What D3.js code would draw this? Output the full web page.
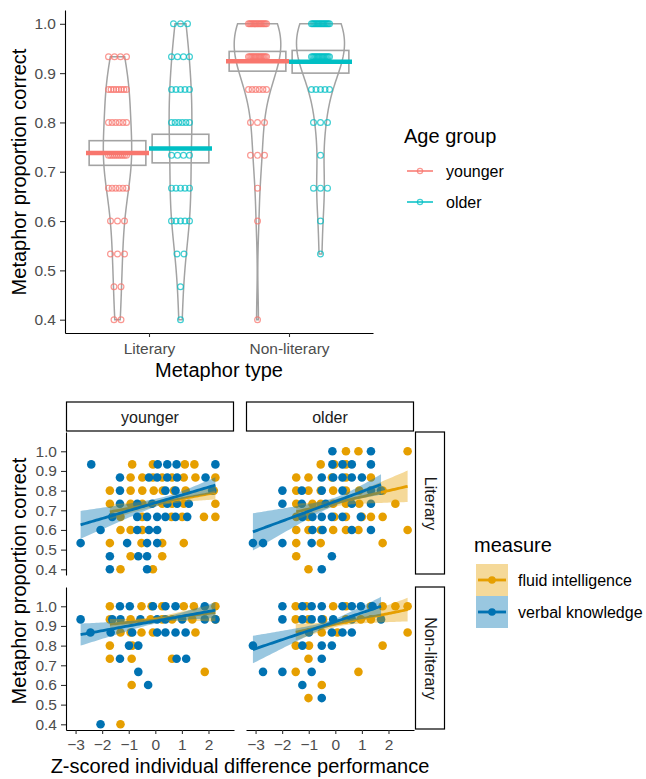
<!DOCTYPE html>
<html>
<head>
<meta charset="utf-8">
<script src="https://cdn.jsdelivr.net/npm/d3@7"></script>
<style>
body { margin: 0; background: #fff; }
text { font-family: "Liberation Sans", Arial, Helvetica, sans-serif; }
</style>
</head>
<body>
<script>
// ---------- data: top panel (pirate plot) ----------
var metaphorTypes = ["Literary", "Non-literary"];
var ageGroups = ["younger", "older"];
var ageColors = ["#F8766D", "#00BFC4"];
var scoreLevels = [0.4, 0.4667, 0.5333, 0.6, 0.6667, 0.7333, 0.8, 0.8667, 0.9333, 1.0];
// number of participants at each score level
var countsLitYoung = [2, 2, 3, 3, 6, 10, 6, 8, 4, 0];
var countsLitOld   = [1, 1, 2, 5, 5, 4, 6, 5, 4, 3];
var countsNonYoung = [1, 0, 0, 1, 1, 3, 3, 6, 15, 15];
var countsNonOld   = [0, 0, 1, 1, 3, 1, 3, 5, 15, 15];
var meanLit = [0.738, 0.747], meanNon = [0.924, 0.923];
var ciLowLit = [0.713, 0.718], ciHighLit = [0.763, 0.776];
var ciLowNon = [0.904, 0.900], ciHighNon = [0.944, 0.946];
var yTicks = [0.4, 0.5, 0.6, 0.7, 0.8, 0.9, 1.0];

// ---------- data: bottom panels (score level -> z-scores) ----------
var measures = ["fluid intelligence", "verbal knowledge"];
var measureColors = ["#E69F00", "#0072B2"];
var zTicks = [-3, -2, -1, 0, 1, 2];

var fluidYoungLit = [
  [0.9333, [-0.87, -0.09, 1.11, 1.47]],
  [0.8667, [-0.93, -0.49, -0.09, 0.26, 0.63, 1.07, 1.51, 2.26]],
  [0.8,    [-1.71, -0.93, -0.49, -0.06, 0.28, 0.70, 1.14, 2.20]],
  [0.7333, [-1.71, -0.93, -0.49, 0.26, 0.63, 1.07, 2.26]],
  [0.6667, [-1.31, -0.49, 0.61, 1.01, 1.83, 2.26]],
  [0.6,    [-1.31, -0.93, -0.49]],
  [0.5333, [-1.71, -0.52, 0.26, 1.07]],
  [0.4667, [-0.93, 0.26]],
  [0.4,    [-1.31, -0.09]]
];
var verbalYoungLit = [
  [0.9333, [-2.41, 0.09, 0.45, 0.80, 2.26]],
  [0.8667, [-1.33, -0.24, 0.07, 0.45, 0.82, 1.89]],
  [0.8,    [-1.33, 0.38, 0.76, 2.14]],
  [0.7333, [-1.33, -0.68, -0.12, 0.45, 0.82, 1.26]],
  [0.6667, [-1.62, -0.68, -0.31, 0.07, 0.38, 0.76, 1.20]],
  [0.6,    [-2.06, -0.68, -0.24, 0.07]],
  [0.5333, [-2.81, -1.06, -0.31, 0.07]],
  [0.4667, [-1.71, -0.64, -0.31]],
  [0.4,    [-1.71, -0.31]]
];
var fluidOldLit = [
  [1.0,    [0.40, 0.87, 2.72]],
  [0.9333, [-0.55, -0.04, 0.40]],
  [0.8667, [-1.47, -1.01, -0.13, 0.40, 1.34]],
  [0.8,    [-1.47, -1.01, -0.55, -0.08, 0.40, 0.90, 1.78]],
  [0.7333, [-1.47, -0.86, -0.55, -0.08, 0.40, 0.90, 2.26]],
  [0.6667, [-1.47, -1.01, -0.04, 0.40, 1.00, 1.34, 1.78]],
  [0.6,    [-1.47, -1.01, -0.55, -0.08, 0.40, 0.87, 2.72]],
  [0.5333, [-1.47, -0.55, 1.78]],
  [0.4667, [-1.47]],
  [0.4,    [-1.01]]
];
var verbalOldLit = [
  [1.0,    [-0.11, 1.34]],
  [0.9333, [-0.11, 0.27, 0.62, 1.34]],
  [0.8667, [-0.51, -0.08, 0.27, 0.62, 1.00]],
  [0.8,    [-1.99, -1.26, -0.51, 0.27, 1.34, 1.72]],
  [0.7333, [-1.99, -1.26, -0.36, 0.62, 1.34]],
  [0.6667, [-1.24, -0.86, -0.51, -0.13, 0.27, 0.96]],
  [0.6,    [-0.86, -0.48, 0.62, 1.34]],
  [0.5333, [-3.10, -2.72, -1.99, -0.89]],
  [0.4667, [-0.13]],
  [0.4,    [-0.51]]
];
var fluidYoungNon = [
  [1.0,    [-1.71, -0.52, -0.14, 0.26, 1.07, 1.45, 2.26]],
  [0.9333, [-1.71, -0.93, -0.18, 0.26, 0.63, 1.39, 2.26]],
  [0.8667, [-1.31, -0.93, -0.52, -0.09, 1.51]],
  [0.8,    [-1.71, -0.87]],
  [0.7333, [-1.71, -0.89, 0.63]],
  [0.6667, [1.86]],
  [0.6,    [-0.89]],
  [0.4,    [-1.31]]
];
var verbalYoungNon = [
  [1.0,    [-1.33, -0.96, -0.09, 0.38, 0.76, 1.86]],
  [0.9333, [-2.81, -1.62, -1.31, -0.56, 0.07, 0.38, 1.01, 1.86, 2.26]],
  [0.8667, [-2.44, -1.68, -0.87, 0.07, 0.38, 0.76, 1.14]],
  [0.8,    [-0.99, -0.64]],
  [0.7333, [-1.33, 0.80, 1.16]],
  [0.6667, [-0.64]],
  [0.6,    [-0.27]],
  [0.4,    [-2.06]]
];
var fluidOldNon = [
  [1.0,    [-1.49, -1.09, -0.08, 0.40, 1.34, 1.78, 2.26, 2.72]],
  [0.9333, [-1.49, -1.01, -0.46, 0.40, 0.96, 1.34]],
  [0.8667, [-0.51, 0.08, 2.72]],
  [0.8,    [-1.49, -0.99, 1.78]],
  [0.7333, [-1.01]],
  [0.6667, [-1.49, 0.87]],
  [0.6,    [-0.51]],
  [0.5333, [-1.01]]
];
var verbalOldNon = [
  [1.0,    [-1.99, -1.24, -0.89, -0.51, 0.27, 0.62, 0.96, 1.40]],
  [0.9333, [-1.99, -1.24, -0.89, -0.51, -0.08, 0.62, 1.72]],
  [0.8667, [-0.99, -0.13, 0.27, 0.62]],
  [0.8,    [-3.10, -1.24, -0.51, -0.13]],
  [0.7333, [-0.51]],
  [0.6667, [-2.72, -1.99, -0.89]],
  [0.6,    [-1.24]],
  [0.5333, [-0.51]]
];
// linear fits, panels in order younger-Lit, older-Lit, younger-Non, older-Non:
// [x start, x end, fit at start, fit at end, CI half-width at start, at end, smallest half-width]
var fluidFits = [
  [-1.71, 2.26, 0.692, 0.790, 0.038, 0.035, 0.014],
  [-1.47, 2.72, 0.692, 0.822, 0.042, 0.080, 0.018],
  [-1.71, 2.26, 0.908, 0.968, 0.027, 0.044, 0.011],
  [-1.49, 2.72, 0.868, 0.983, 0.042, 0.060, 0.014]
];
var verbalFits = [
  [-2.81, 2.26, 0.626, 0.828, 0.071, 0.040, 0.017],
  [-3.10, 1.72, 0.590, 0.831, 0.095, 0.052, 0.020],
  [-2.81, 2.26, 0.856, 0.980, 0.056, 0.040, 0.012],
  [-3.10, 1.72, 0.780, 1.000, 0.070, 0.048, 0.015]
];

// ---------- setup ----------
var svg = d3.select("body").append("svg").attr("width", 646).attr("height", 779);

function styleAxis(g) {
  g.select(".domain").attr("stroke", "#000").attr("stroke-width", 1.1);
  g.selectAll(".tick line").attr("stroke", "#333").attr("stroke-width", 1.1);
  g.selectAll(".tick text").attr("fill", "#4d4d4d").attr("font-size", 15.5)
    .attr("font-family", "Liberation Sans, Arial, sans-serif");
}

// ================= TOP: pirate plot =================
var xType = d3.scalePoint().domain(metaphorTypes).range([65, 373]).padding(0.6);
var xAge = d3.scaleBand().domain(ageGroups).range([-63, 63]);
var yTop = d3.scaleLinear().domain([0.373, 1.028]).range([333, 10]);

var topCounts = [[countsLitYoung, countsLitOld], [countsNonYoung, countsNonOld]];
var topMeans = [meanLit, meanNon];
var topLow = [ciLowLit, ciLowNon], topHigh = [ciHighLit, ciHighNon];

function expand(counts) {
  var out = [];
  counts.forEach(function(c, i) { for (var j = 0; j < c; j++) out.push(scoreLevels[i]); });
  return out;
}
function bandwidth(v) {
  return 0.9 * d3.deviation(v) * Math.pow(v.length, -0.2);
}
function kde(v, bw, lo, hi) {
  var out = [];
  for (var i = 0; i <= 120; i++) {
    var g = lo + (hi - lo) * i / 120;
    var d = d3.mean(v, function(x) { var u = (g - x) / bw; return Math.exp(-0.5 * u * u); }) / (bw * Math.sqrt(2 * Math.PI));
    out.push({v: g, d: d});
  }
  return out;
}

var groupsTop = [];
metaphorTypes.forEach(function(t, ti) {
  ageGroups.forEach(function(a, ai) {
    var vals = expand(topCounts[ti][ai]);
    groupsTop.push({
      type: t, age: a, ai: ai, ti: ti, counts: topCounts[ti][ai],
      cx: xType(t) + xAge(a) + xAge.bandwidth() / 2,
      dens: kde(vals, bandwidth(vals), d3.min(vals), d3.max(vals)),
      mean: topMeans[ti][ai], lo: topLow[ti][ai], hi: topHigh[ti][ai]
    });
  });
});
var maxDens = d3.max(groupsTop, function(g) { return d3.max(g.dens, function(d) { return d.d; }); });
var violinHalf = 24;

var topG = svg.append("g");
// violins
groupsTop.forEach(function(g) {
  var area = d3.area()
    .y(function(d) { return yTop(d.v); })
    .x0(function(d) { return g.cx - violinHalf * d.d / maxDens; })
    .x1(function(d) { return g.cx + violinHalf * d.d / maxDens; });
  topG.append("path").attr("d", area(g.dens))
    .attr("fill", "none").attr("stroke", "#a3a3a3").attr("stroke-width", 1.5);
});
// points, spread across each score level
groupsTop.forEach(function(g) {
  g.counts.forEach(function(n, li) {
    if (!n) return;
    var spread = Math.min(9, (n - 1) * 3.5);
    for (var j = 0; j < n; j++) {
      var off = n === 1 ? 0 : -spread + 2 * spread * j / (n - 1);
      topG.append("circle")
        .attr("cx", g.cx + off).attr("cy", yTop(scoreLevels[li])).attr("r", 2.9)
        .attr("fill", "none").attr("stroke", ageColors[g.ai]).attr("stroke-width", 1.2)
        .attr("stroke-opacity", 0.75);
    }
  });
});
// interval boxes
groupsTop.forEach(function(g) {
  var bw = xAge.bandwidth() * 0.9;
  topG.append("rect").attr("x", g.cx - bw / 2).attr("y", yTop(g.hi))
    .attr("width", bw).attr("height", yTop(g.lo) - yTop(g.hi))
    .attr("fill", "none").attr("stroke", "#a3a3a3").attr("stroke-width", 1.6);
});
// mean lines
groupsTop.forEach(function(g) {
  var bw = xAge.bandwidth();
  topG.append("line").attr("x1", g.cx - bw / 2).attr("x2", g.cx + bw / 2)
    .attr("y1", yTop(g.mean)).attr("y2", yTop(g.mean))
    .attr("stroke", ageColors[g.ai]).attr("stroke-width", 4.5);
});

// axes
topG.append("g").attr("transform", "translate(65,0)")
  .call(d3.axisLeft(yTop).tickValues(yTicks).tickFormat(d3.format(".1f")).tickSize(5).tickSizeOuter(0).tickPadding(4))
  .call(styleAxis);
topG.append("g").attr("transform", "translate(0,333)")
  .call(d3.axisBottom(xType).tickSize(4).tickSizeOuter(0).tickPadding(6))
  .call(styleAxis);
topG.append("text").attr("transform", "translate(26,172) rotate(-90)")
  .attr("text-anchor", "middle").attr("font-size", 20).attr("fill", "#000")
  .text("Metaphor proportion correct");
topG.append("text").attr("x", 219).attr("y", 377)
  .attr("text-anchor", "middle").attr("font-size", 20).attr("fill", "#000")
  .text("Metaphor type");

// legend: age group
var lg = svg.append("g");
lg.append("text").attr("x", 404).attr("y", 143).attr("font-size", 20).text("Age group");
ageGroups.forEach(function(a, i) {
  var y = 171 + i * 31;
  lg.append("line").attr("x1", 407).attr("x2", 433).attr("y1", y).attr("y2", y)
    .attr("stroke", ageColors[i]).attr("stroke-width", 2).attr("stroke-opacity", 0.75);
  lg.append("circle").attr("cx", 420).attr("cy", y).attr("r", 2.6)
    .attr("fill", "none").attr("stroke", ageColors[i]).attr("stroke-width", 1.2).attr("stroke-opacity", 0.75);
  lg.append("text").attr("x", 446).attr("y", y + 5.5).attr("font-size", 16).attr("fill", "#000").text(a);
});

// ================= BOTTOM: facet grid =================
var colX = [66, 246], rowY = [432, 587], panelW = 168, panelH = 143;
var rowTypes = ["Literary", "Non-literary"];
var panelData = [
  [[fluidYoungLit, verbalYoungLit], [fluidOldLit, verbalOldLit]],
  [[fluidYoungNon, verbalYoungNon], [fluidOldNon, verbalOldNon]]
];
var xZ = d3.scaleLinear().domain([-3.36, 2.96]).range([0, panelW]);
var yP = d3.scaleLinear().domain([0.371, 1.098]).range([panelH, 0]);

function toPoints(rows) {
  var out = [];
  rows.forEach(function(r) { r[1].forEach(function(x) { out.push({x: x, y: r[0]}); }); });
  return out;
}
// line + hyperbolic confidence band from a fit row
function fitBand(f) {
  var x0 = f[0], x1 = f[1], y0 = f[2], y1 = f[3], h0 = f[4], h1 = f[5], m = f[6];
  var r = Math.sqrt((h0 * h0 - m * m) / (h1 * h1 - m * m));
  var xm = (x0 + r * x1) / (1 + r);
  var c = (h1 * h1 - m * m) / ((x1 - xm) * (x1 - xm));
  var out = [];
  for (var i = 0; i <= 60; i++) {
    var x = x0 + (x1 - x0) * i / 60;
    var y = y0 + (y1 - y0) * (x - x0) / (x1 - x0);
    var h = Math.sqrt(m * m + c * (x - xm) * (x - xm));
    out.push({x: x, f: y, lo: y - h, hi: y + h});
  }
  return out;
}

var bot = svg.append("g");
rowTypes.forEach(function(rt, ri) {
  ageGroups.forEach(function(ag, ci) {
    var p = bot.append("g").attr("transform", "translate(" + colX[ci] + "," + rowY[ri] + ")");
    var sets = panelData[ri][ci];
    var k = ri * 2 + ci;
    // points: fluid first, verbal on top
    sets.forEach(function(rows, mi) {
      p.selectAll("circle.m" + mi).data(toPoints(rows)).enter().append("circle")
        .attr("class", "m" + mi)
        .attr("cx", function(d) { return xZ(d.x); })
        .attr("cy", function(d) { return yP(d.y); })
        .attr("r", 4.3).attr("fill", measureColors[mi]);
    });
    // smooths
    [fluidFits[k], verbalFits[k]].forEach(function(f, mi) {
      var band = fitBand(f);
      p.append("path").datum(band)
        .attr("d", d3.area().x(function(d) { return xZ(d.x); })
          .y0(function(d) { return yP(d.lo); }).y1(function(d) { return yP(d.hi); }))
        .attr("fill", measureColors[mi]).attr("fill-opacity", 0.4);
      p.append("path").datum(band)
        .attr("d", d3.line().x(function(d) { return xZ(d.x); }).y(function(d) { return yP(d.f); }))
        .attr("fill", "none").attr("stroke", measureColors[mi]).attr("stroke-width", 2.8);
    });
    // axes on outer panels
    if (ci === 0) {
      p.append("g").call(d3.axisLeft(yP).tickValues(yTicks).tickFormat(d3.format(".1f")).tickSize(5).tickSizeOuter(0).tickPadding(4))
        .call(styleAxis);
    }
    if (ri === 1) {
      p.append("g").attr("transform", "translate(0," + panelH + ")")
        .call(d3.axisBottom(xZ).tickValues(zTicks).tickFormat(d3.format("d")).tickSize(4).tickSizeOuter(0).tickPadding(5))
        .call(styleAxis);
    }
  });
});
// strips on top (age group)
ageGroups.forEach(function(ag, ci) {
  bot.append("rect").attr("x", colX[ci] + 0.5).attr("y", 402).attr("width", panelW - 1).attr("height", 29)
    .attr("fill", "#fff").attr("stroke", "#000").attr("stroke-width", 1.2);
  bot.append("text").attr("x", colX[ci] + panelW / 2).attr("y", 422.5)
    .attr("text-anchor", "middle").attr("font-size", 16).attr("fill", "#1a1a1a").text(ag);
});
// strips on the right (metaphor type)
rowTypes.forEach(function(rt, ri) {
  bot.append("rect").attr("x", 415.5).attr("y", rowY[ri]).attr("width", 29).attr("height", panelH - 1)
    .attr("fill", "#fff").attr("stroke", "#000").attr("stroke-width", 1.2);
  bot.append("text").attr("transform", "translate(424.5," + (rowY[ri] + panelH / 2) + ") rotate(90)")
    .attr("text-anchor", "middle").attr("font-size", 16).attr("fill", "#1a1a1a").text(rt);
});
bot.append("text").attr("transform", "translate(26,581) rotate(-90)")
  .attr("text-anchor", "middle").attr("font-size", 20).attr("fill", "#000")
  .text("Metaphor proportion correct");
bot.append("text").attr("x", 240).attr("y", 773)
  .attr("text-anchor", "middle").attr("font-size", 20).attr("fill", "#000")
  .text("Z-scored individual difference performance");

// legend: measure
var lm = svg.append("g");
lm.append("text").attr("x", 474).attr("y", 552).attr("font-size", 20).text("measure");
measures.forEach(function(m, i) {
  var y0 = 564 + i * 32;
  lm.append("rect").attr("x", 476).attr("y", y0).attr("width", 32).attr("height", 32)
    .attr("fill", measureColors[i]).attr("fill-opacity", 0.4);
  lm.append("line").attr("x1", 478).attr("x2", 506).attr("y1", y0 + 16).attr("y2", y0 + 16)
    .attr("stroke", measureColors[i]).attr("stroke-width", 2.8);
  lm.append("circle").attr("cx", 492).attr("cy", y0 + 16).attr("r", 3.8).attr("fill", measureColors[i]);
  lm.append("text").attr("x", 518).attr("y", y0 + 21.5).attr("font-size", 16).attr("fill", "#000").text(m);
});
</script>
</body>
</html>
